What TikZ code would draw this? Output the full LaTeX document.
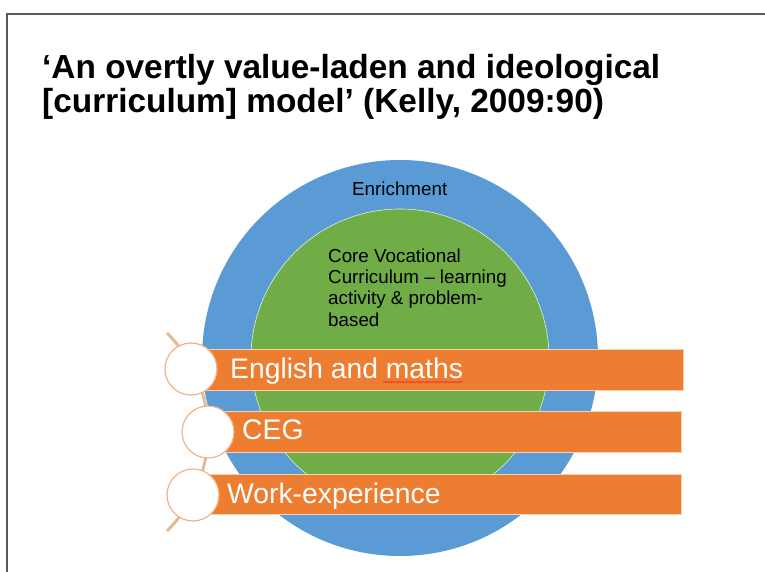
\documentclass[tikz,border=0pt]{standalone}
\usepackage{fontspec}
\setmainfont{Liberation Sans}
\usetikzlibrary{decorations.pathmorphing}
\definecolor{ringblue}{HTML}{5B9BD5}
\definecolor{coregreen}{HTML}{70AD47}
\definecolor{barorange}{HTML}{ED7D31}
\definecolor{circedge}{HTML}{F4B183}
\definecolor{arctan}{HTML}{E2BA97}
\definecolor{framegray}{HTML}{5A5A5A}
\tikzset{
  titletext/.style={anchor=base west, inner sep=0pt, font=\fontsize{33.4}{34}\selectfont\bfseries},
  bodytext/.style={anchor=base west, inner sep=0pt, font=\fontsize{18.8}{21}\selectfont},
  bartext/.style={anchor=base west, inner sep=0pt, text=white, font=\fontsize{28.3}{30}\selectfont},
  barbox/.style={fill=barorange, draw=circedge!60!white, line width=0.7pt},
  bullet/.style={circle, fill=white, draw=circedge, line width=1.2pt, minimum size=52pt, inner sep=0pt},
}
\begin{document}
\begin{tikzpicture}[x=1pt, y=-1pt]
\useasboundingbox (0,0) rectangle (765,572);
% frame
\draw[framegray, line width=1.3pt] (765,14) -- (7,14) -- (7,572);
% title
\node[titletext] (t1) at (42,79) {‘An overtly value-laden and ideological};
\node[titletext] (t2) at (42,113) {[curriculum] model’ (Kelly, 2009:90)};
% rings
\coordinate (ctr) at (400,358);
\fill[ringblue] (ctr) circle[radius=198];
\draw[fill=coregreen, draw=white!80!coregreen, line width=0.6pt] (ctr) circle[radius=149];
\node[bodytext] (enr) at (352,196) {Enrichment};
\node[bodytext] (core1) at (328,262) {Core Vocational};
\node[bodytext] (core2) at (328,283) {Curriculum – learning};
\node[bodytext] (core3) at (328,304) {activity \& problem-};
\node[bodytext] (core4) at (328,326) {based};
% arc
\coordinate (arcc) at (68,432);
\draw[arctan, line width=3pt] (arcc) ++(-45:140) arc[start angle=-45, end angle=45, radius=140];
% bars
\fill[barorange] (191,349) rectangle (683,390);
\draw[barbox] (191,349) rectangle (683,390);
\draw[barbox] (208,411) rectangle (681,452);
\draw[barbox] (193,474) rectangle (681,514);
% circles
\node[bullet] (c1) at (191,369) {};
\node[bullet] (c2) at (208,432) {};
\node[bullet] (c3) at (193,495) {};
% bar texts
\node[bartext] (b1) at (230,378) {English and maths};
\node[bartext] (b2) at (242,439) {CEG};
\node[bartext] (b3) at (227,503) {Work-experience};
\draw[red!85!white, line width=0.5pt, decorate, decoration={snake, amplitude=0.7pt, segment length=3pt}] (383,382) -- (463,382);
\end{tikzpicture}
\end{document}
